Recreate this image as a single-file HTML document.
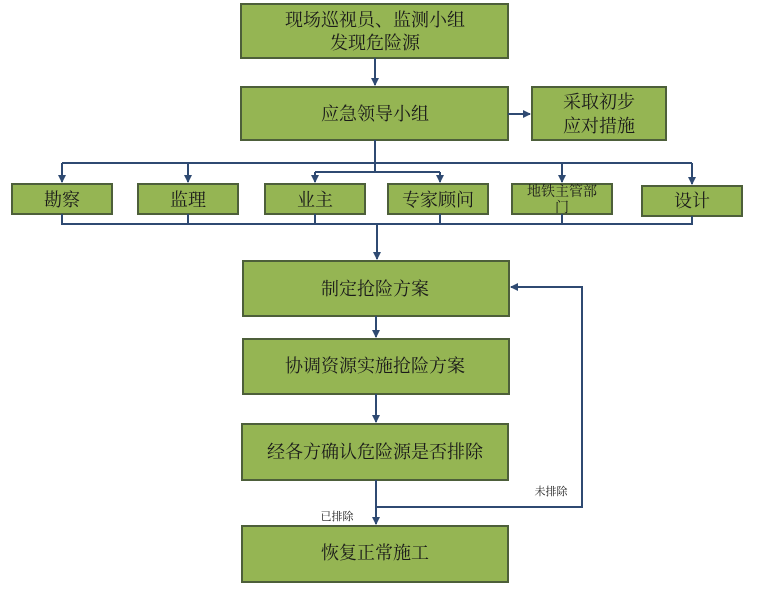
<!DOCTYPE html>
<html><head><meta charset="utf-8"><style>
body{margin:0;background:#fff;}
svg text{font-family:"Liberation Serif","Noto Serif CJK SC","Noto Sans CJK SC",serif;fill:#1a1a1a;text-anchor:middle;}
</style></head><body>
<svg width="780" height="585" viewBox="0 0 780 585" xmlns="http://www.w3.org/2000/svg">
<defs><marker id="a" markerWidth="8" markerHeight="8" refX="7" refY="4" orient="auto" markerUnits="userSpaceOnUse"><path d="M0,0 L8,4 L0,8z" fill="#2f4a72"/></marker></defs>
<g fill="#95b553" stroke="#4d5f3a" stroke-width="2">
<rect x="241" y="4" width="267" height="54"/>
<rect x="241" y="87" width="267" height="53"/>
<rect x="532" y="87" width="134" height="53"/>
<rect x="12" y="184" width="100" height="30"/>
<rect x="138" y="184" width="100" height="30"/>
<rect x="265" y="184" width="100" height="30"/>
<rect x="388" y="184" width="100" height="30"/>
<rect x="512" y="184" width="100" height="30"/>
<rect x="642" y="186" width="100" height="30"/>
<rect x="243" y="261" width="266" height="55"/>
<rect x="243" y="339" width="266" height="55"/>
<rect x="242" y="424" width="266" height="56"/>
<rect x="242" y="526" width="266" height="56"/>
</g>
<g stroke="#2f4a72" stroke-width="2" fill="none">
<path d="M375 58 V85" marker-end="url(#a)"/>
<path d="M508 114 H530" marker-end="url(#a)"/>
<path d="M375 140 V163"/>
<path d="M62 163 H692"/>
<path d="M62 163 V182" marker-end="url(#a)"/>
<path d="M188 163 V182" marker-end="url(#a)"/>
<path d="M375 163 V172 M315 172 H440"/>
<path d="M315 172 V182" marker-end="url(#a)"/>
<path d="M440 172 V182" marker-end="url(#a)"/>
<path d="M562 163 V182" marker-end="url(#a)"/>
<path d="M692 163 V184" marker-end="url(#a)"/>
<path d="M62 214 V224 H692 V216 M188 214 V224 M315 214 V224 M440 214 V224 M562 214 V224"/>
<path d="M377 224 V259" marker-end="url(#a)"/>
<path d="M376 316 V337" marker-end="url(#a)"/>
<path d="M376 394 V422" marker-end="url(#a)"/>
<path d="M376 480 V524" marker-end="url(#a)"/>
<path d="M376 507 H582 V287 H511" marker-end="url(#a)"/>
</g>
<g font-size="18">
<text x="375" y="26">现场巡视员、监测小组</text>
<text x="375" y="49">发现危险源</text>
<text x="375" y="120">应急领导小组</text>
<text x="599" y="108">采取初步</text>
<text x="599" y="132">应对措施</text>
<text x="62" y="206">勘察</text>
<text x="188" y="206">监理</text>
<text x="315" y="206">业主</text>
<text x="438" y="206">专家顾问</text>
<text x="692" y="207">设计</text>
<text x="375" y="295">制定抢险方案</text>
<text x="375" y="372">协调资源实施抢险方案</text>
<text x="375" y="458">经各方确认危险源是否排除</text>
<text x="375" y="559">恢复正常施工</text>
</g>
<g font-size="14">
<text x="562" y="196">地铁主管部</text>
<text x="562" y="212">门</text>
</g>
<g font-size="11">
<text x="551" y="495">未排除</text>
<text x="337" y="520">已排除</text>
</g>
</svg>
</body></html>
